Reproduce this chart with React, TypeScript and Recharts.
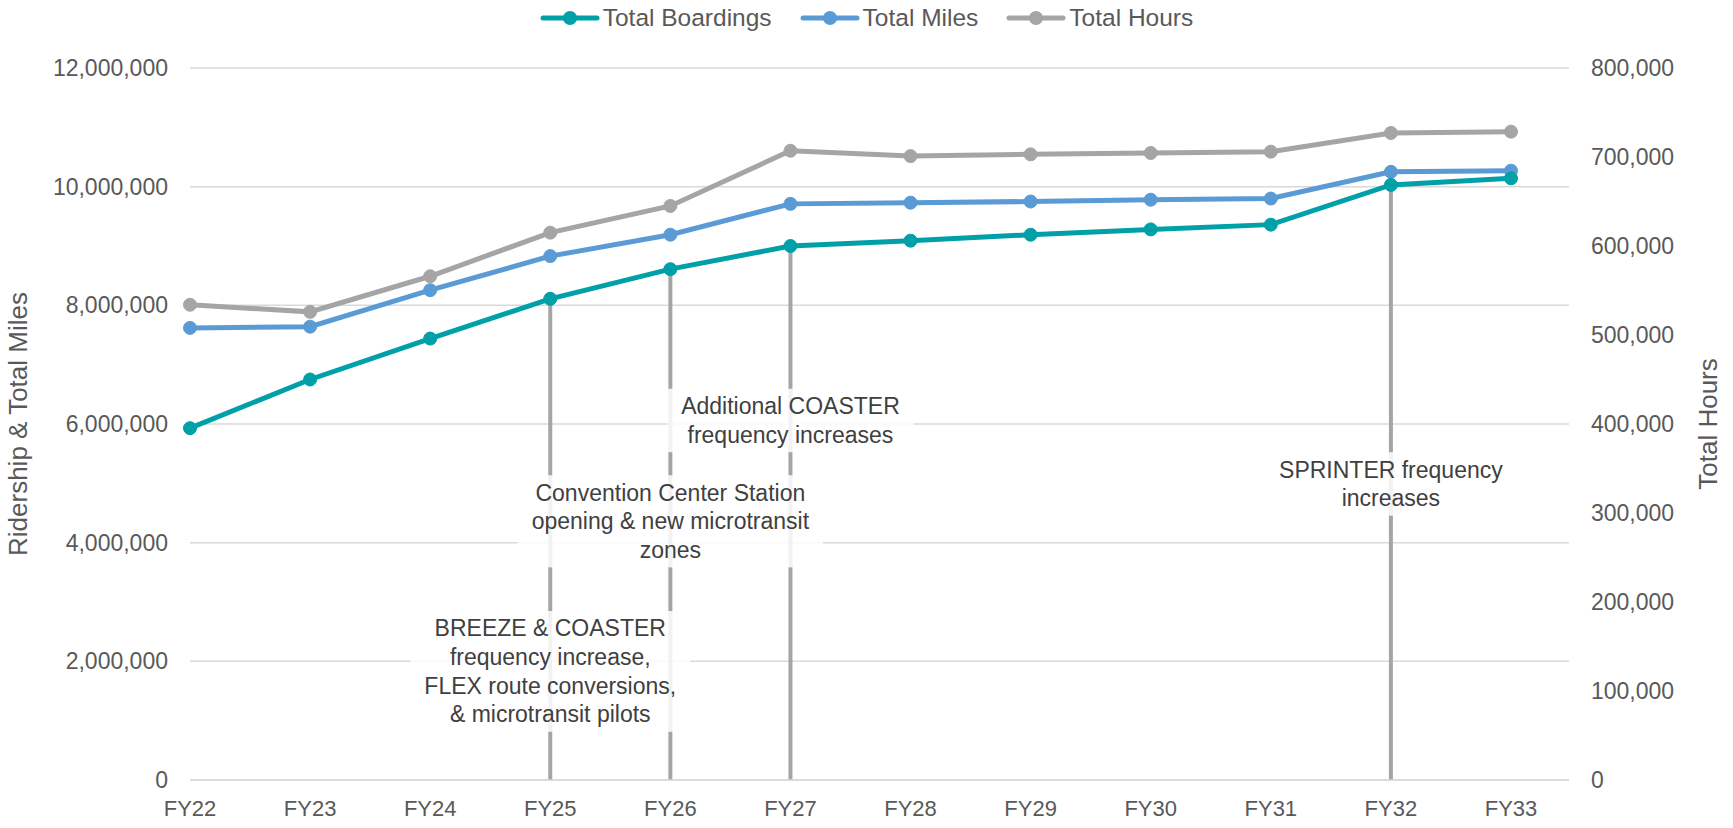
import React from "react";
import {
  LineChart,
  Line,
  XAxis,
  YAxis,
  CartesianGrid,
  Legend,
  ReferenceLine,
  ReferenceDot,
} from "recharts";

const years = ["FY22", "FY23", "FY24", "FY25", "FY26", "FY27", "FY28", "FY29", "FY30", "FY31", "FY32", "FY33"];
const boardings = [5930000, 6750000, 7440000, 8110000, 8610000, 9000000, 9090000, 9190000, 9280000, 9360000, 10030000, 10140000];
const miles = [7620000, 7640000, 8255000, 8830000, 9190000, 9710000, 9730000, 9750000, 9780000, 9800000, 10250000, 10270000];
const hours = [534000, 526000, 566000, 615000, 645000, 707000, 701000, 703000, 704500, 706000, 727000, 728500];

const leftTicks = [0, 2000000, 4000000, 6000000, 8000000, 10000000, 12000000];
const rightTicks = [0, 100000, 200000, 300000, 400000, 500000, 600000, 700000, 800000];

// milestone years get a drop line from the boardings point down to zero
const milestoneYears = ["FY25", "FY26", "FY27", "FY32"];

const annotations = [
  { year: "FY25", y: 1830000, lines: ["BREEZE & COASTER", "frequency increase,", "FLEX route conversions,", "& microtransit pilots"] },
  { year: "FY26", y: 4360000, lines: ["Convention Center Station", "opening & new microtransit", "zones"] },
  { year: "FY27", y: 6060000, lines: ["Additional COASTER", "frequency increases"] },
  { year: "FY32", y: 4990000, lines: ["SPRINTER frequency", "increases"] },
];

const TEAL = "#00A0A8";
const BLUE = "#5B9BD5";
const GRAY = "#A5A5A5";
const FONT = '"Liberation Sans", Arial, sans-serif';
const TICK_COLOR = "#595959";

const data = years.map((year, i) => ({
  year,
  boardings: boardings[i],
  miles: miles[i],
  hours: hours[i],
}));

const legendItems = [
  { label: "Total Boardings", color: TEAL },
  { label: "Total Miles", color: BLUE },
  { label: "Total Hours", color: GRAY },
];

const fmt = (v: number) => v.toLocaleString("en-US");

let measureCtx: CanvasRenderingContext2D | null = null;
const measure = (text: string, size: number) => {
  if (!measureCtx) measureCtx = document.createElement("canvas").getContext("2d");
  if (!measureCtx) return text.length * size * 0.5;
  measureCtx.font = `${size}px "Liberation Sans", Arial, sans-serif`;
  return measureCtx.measureText(text).width;
};

const renderLegend = () => (
  <div
    style={{
      display: "flex",
      justifyContent: "center",
      gap: 28,
      fontFamily: FONT,
      fontSize: 24.5,
      color: TICK_COLOR,
      lineHeight: "36px",
      height: 36,
    }}
  >
    {legendItems.map((item) => (
      <div key={item.label} style={{ display: "flex", alignItems: "center" }}>
        <svg width={60} height={16}>
          <line x1={3} x2={57} y1={8} y2={8} stroke={item.color} strokeWidth={5} strokeLinecap="round" />
          <circle cx={30} cy={8} r={7} fill={item.color} />
        </svg>
        <span style={{ marginLeft: 3 }}>{item.label}</span>
      </div>
    ))}
  </div>
);

const AnnotationBox = ({ cx, cy, lines }: { cx?: number; cy?: number; lines: string[] }) => {
  if (cx == null || cy == null) return null;
  const fontSize = 23;
  const lineH = 28.7;
  const w = Math.max(...lines.map((l) => measure(l, fontSize))) + 28;
  const h = lines.length * lineH + 6;
  const top = cy - h / 2;
  return (
    <g>
      <rect x={cx - w / 2} y={top} width={w} height={h} fill="#ffffff" fillOpacity={0.85} />
      {lines.map((l, i) => (
        <text
          key={i}
          x={cx}
          y={top + 3 + lineH * (i + 0.5)}
          textAnchor="middle"
          dominantBaseline="central"
          fontFamily={FONT}
          fontSize={fontSize}
          fill="#404040"
        >
          {l}
        </text>
      ))}
    </g>
  );
};

const axisTitle = (title: string, x: number) => (props: any) => {
  const vb = props.viewBox || {};
  const y = (vb.y ?? 0) + (vb.height ?? 0) / 2;
  return (
    <text
      x={x}
      y={y}
      transform={`rotate(-90 ${x} ${y})`}
      textAnchor="middle"
      dominantBaseline="central"
      fontFamily={FONT}
      fontSize={26}
      fill={TICK_COLOR}
    >
      {title}
    </text>
  );
};

export default function App() {
  return (
    <div style={{ width: 1733, height: 828, background: "#fff" }}>
      <style>{`body{margin:0;}`}</style>
      <LineChart width={1733} height={828} data={data} margin={{ top: 32, right: 0, bottom: 0, left: 0 }}>
        <CartesianGrid vertical={false} stroke="#D9D9D9" strokeWidth={1.5} yAxisId="left" />
        <XAxis
          dataKey="year"
          padding={{ left: 0, right: 58 }}
          height={48}
          tickLine={false}
          axisLine={{ stroke: "#D9D9D9", strokeWidth: 1.5 }}
          tickMargin={14}
          tick={{ fontSize: 22, fill: TICK_COLOR, fontFamily: FONT }}
        />
        <YAxis
          yAxisId="left"
          width={190}
          domain={[0, 12000000]}
          ticks={leftTicks}
          tickFormatter={fmt}
          axisLine={false}
          tickLine={false}
          tickMargin={16}
          tick={{ fontSize: 23, fill: TICK_COLOR, fontFamily: FONT }}
          label={{ content: axisTitle("Ridership & Total Miles", 18) }}
        />
        <YAxis
          yAxisId="right"
          orientation="right"
          width={164}
          domain={[0, 800000]}
          ticks={rightTicks}
          tickFormatter={fmt}
          axisLine={false}
          tickLine={false}
          tickMargin={16}
          tick={{ fontSize: 23, fill: TICK_COLOR, fontFamily: FONT }}
          label={{ content: axisTitle("Total Hours", 1708) }}
        />
        <Legend verticalAlign="top" align="center" height={36} content={renderLegend} wrapperStyle={{ top: 0 }} />
        {milestoneYears.map((yr) => (
          <ReferenceLine
            key={yr}
            yAxisId="left"
            segment={[
              { x: yr, y: 0 },
              { x: yr, y: boardings[years.indexOf(yr)] },
            ]}
            stroke={GRAY}
            strokeWidth={4}
          />
        ))}
        <Line
          yAxisId="right"
          type="linear"
          dataKey="hours"
          name="Total Hours"
          stroke={GRAY}
          strokeWidth={5}
          dot={{ r: 6.5, fill: GRAY, stroke: GRAY, strokeWidth: 1 }}
          isAnimationActive={false}
        />
        <Line
          yAxisId="left"
          type="linear"
          dataKey="miles"
          name="Total Miles"
          stroke={BLUE}
          strokeWidth={5}
          dot={{ r: 6.5, fill: BLUE, stroke: BLUE, strokeWidth: 1 }}
          isAnimationActive={false}
        />
        <Line
          yAxisId="left"
          type="linear"
          dataKey="boardings"
          name="Total Boardings"
          stroke={TEAL}
          strokeWidth={5}
          dot={{ r: 6.5, fill: TEAL, stroke: TEAL, strokeWidth: 1 }}
          isAnimationActive={false}
        />
        {annotations.map((a) => (
          <ReferenceDot
            key={a.year}
            yAxisId="left"
            x={a.year}
            y={a.y}
            r={0}
            shape={(p: any) => <AnnotationBox cx={p.cx} cy={p.cy} lines={a.lines} />}
          />
        ))}
      </LineChart>
    </div>
  );
}
